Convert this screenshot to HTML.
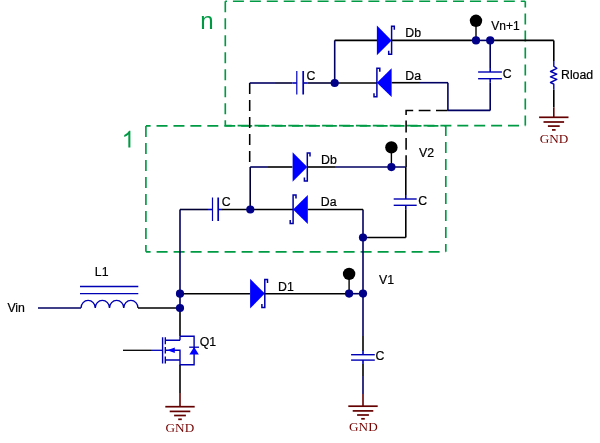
<!DOCTYPE html>
<html><head><meta charset="utf-8"><title>Multi-stage boost converter</title>
<style>html,body{margin:0;padding:0;background:#fff;}body{width:600px;height:443px;overflow:hidden;font-family:"Liberation Sans",sans-serif;}svg{display:block;will-change:transform}</style>
</head><body>
<svg width="600" height="443" viewBox="0 0 600 443">
<rect width="600" height="443" fill="#ffffff"/>
<line x1="225.3" y1="1.2" x2="225.3" y2="125.6" stroke="#009a44" stroke-width="1.65" stroke-dasharray="11 6" stroke-dashoffset="0"/>
<line x1="225.3" y1="1.2" x2="525.3" y2="1.2" stroke="#009a44" stroke-width="1.65" stroke-dasharray="11 5.93" stroke-dashoffset="9.3"/>
<line x1="525.3" y1="1.2" x2="525.3" y2="125.6" stroke="#009a44" stroke-width="1.65" stroke-dasharray="11 6" stroke-dashoffset="4.6"/>
<line x1="225.3" y1="125.6" x2="525.3" y2="125.6" stroke="#009a44" stroke-width="1.65" stroke-dasharray="11 5.9" stroke-dashoffset="4.6"/>
<line x1="145.9" y1="125.9" x2="145.9" y2="251.8" stroke="#009a44" stroke-width="1.65" stroke-dasharray="11 6" stroke-dashoffset="0"/>
<line x1="145.9" y1="125.9" x2="445.8" y2="125.9" stroke="#009a44" stroke-width="1.65" stroke-dasharray="11 5.93" stroke-dashoffset="6.3"/>
<line x1="445.8" y1="125.9" x2="445.8" y2="251.8" stroke="#009a44" stroke-width="1.65" stroke-dasharray="11 6" stroke-dashoffset="1"/>
<line x1="145.9" y1="251.8" x2="445.8" y2="251.8" stroke="#009a44" stroke-width="1.65" stroke-dasharray="11 6" stroke-dashoffset="6.3"/>
<text x="200.2" y="29.4" font-size="24" fill="#009a44" font-family="'Liberation Sans', sans-serif">n</text>
<path transform="translate(121.7,147.6) scale(0.01138,-0.01138)" d="M763 0H583V1147Q518 1085 412.5 1023Q307 961 223 930V1104Q374 1175 487 1276Q600 1377 647 1472H763Z" fill="#009a44"/>
<line x1="249.7" y1="83" x2="249.7" y2="167" stroke="#000000" stroke-width="1.55" stroke-dasharray="11 6" stroke-dashoffset="0"/>
<path d="M447.8,110.4 H406.1 V167" fill="none" stroke="#000000" stroke-width="1.55" stroke-dasharray="11.8 5.5"/>
<line x1="38" y1="308" x2="81" y2="308" stroke="#000062" stroke-width="1.6" />
<path d="M81,308 a7.12,7.6 0 0 1 14.25,0 a7.12,7.6 0 0 1 14.25,0 a7.12,7.6 0 0 1 14.25,0 a7.12,7.6 0 0 1 14.25,0" fill="none" stroke="#0000b4" stroke-width="1.4"/>
<line x1="80" y1="286.5" x2="138.3" y2="286.5" stroke="#0000b4" stroke-width="1.3" />
<line x1="80" y1="293.7" x2="138.3" y2="293.7" stroke="#0000b4" stroke-width="1.3" />
<line x1="138" y1="308" x2="180" y2="308" stroke="#000000" stroke-width="1.6" />
<line x1="180" y1="209.5" x2="180" y2="308" stroke="#000062" stroke-width="1.6" />
<line x1="180" y1="308" x2="180" y2="336.3" stroke="#000000" stroke-width="1.6" />
<line x1="180" y1="364.7" x2="180" y2="393" stroke="#000000" stroke-width="1.6" />
<line x1="180" y1="293.7" x2="250" y2="293.7" stroke="#000000" stroke-width="1.6" />
<line x1="264.7" y1="293.7" x2="349" y2="293.7" stroke="#000000" stroke-width="1.6" />
<line x1="349" y1="293.7" x2="363" y2="293.7" stroke="#000062" stroke-width="1.6" />
<polygon points="250.1,278.8 250.1,308.40000000000003 264.8,293.6" fill="#0000ff"/>
<path d="M267.5,283.0 V279.5 H264.8 V307.50000000000006 H261.90000000000003 V304.00000000000006" fill="none" stroke="#0000a8" stroke-width="1.5"/>
<line x1="123" y1="350.3" x2="151" y2="350.3" stroke="#000000" stroke-width="1.3" />
<line x1="151" y1="350.3" x2="162.6" y2="350.3" stroke="#0000b4" stroke-width="1.3" />
<path d="M162.6,337.2 V363.6 M165.3,337.2 V344.2 M165.3,347 V353.6 M165.3,356.6 V363.6 M165.3,340.3 H180 M180,336.3 V340.3 M180,336.3 H194.1 V364.7 H180 V350.2 H165.3 M165.3,360 H180" fill="none" stroke="#0000b4" stroke-width="1.4"/>
<polygon points="167.3,350.2 174.8,347.4 174.8,353" fill="#0000ff"/>
<polygon points="194.1,347 189.4,354.4 198.8,354.4" fill="#0000ff"/>
<line x1="189.2" y1="347.2" x2="199" y2="347.2" stroke="#0000b4" stroke-width="1.3" />
<line x1="180" y1="393" x2="180" y2="406.7" stroke="#640000" stroke-width="1.6" />
<line x1="165.3" y1="406.7" x2="194.7" y2="406.7" stroke="#640000" stroke-width="1.7" />
<line x1="169.7" y1="411.4" x2="190.3" y2="411.4" stroke="#640000" stroke-width="1.7" />
<line x1="174.1" y1="415.5" x2="185.9" y2="415.5" stroke="#640000" stroke-width="1.7" />
<line x1="178.2" y1="419.3" x2="181.8" y2="419.3" stroke="#640000" stroke-width="1.7" />
<text x="165.6" y="431.5" font-size="13.2" fill="#740000" font-family="'Liberation Serif', serif">GND</text>
<line x1="363" y1="209.4" x2="363" y2="336" stroke="#000062" stroke-width="1.6" />
<line x1="363" y1="336" x2="363" y2="351" stroke="#000000" stroke-width="1.6" />
<line x1="363" y1="350.7" x2="363" y2="354.7" stroke="#0000b4" stroke-width="1.6" />
<line x1="363" y1="360.1" x2="363" y2="364.1" stroke="#0000b4" stroke-width="1.6" />
<line x1="351.1" y1="354.7" x2="374.8" y2="354.7" stroke="#0000b4" stroke-width="1.4" />
<line x1="351.1" y1="360.1" x2="374.8" y2="360.1" stroke="#0000b4" stroke-width="1.4" />
<line x1="363" y1="364" x2="363" y2="376" stroke="#000000" stroke-width="1.6" />
<line x1="363" y1="376" x2="363" y2="394" stroke="#000062" stroke-width="1.6" />
<line x1="363" y1="394" x2="363" y2="406.2" stroke="#640000" stroke-width="1.6" />
<line x1="348.3" y1="406.2" x2="377.7" y2="406.2" stroke="#640000" stroke-width="1.7" />
<line x1="352.7" y1="410.9" x2="373.3" y2="410.9" stroke="#640000" stroke-width="1.7" />
<line x1="357.1" y1="415.0" x2="368.9" y2="415.0" stroke="#640000" stroke-width="1.7" />
<line x1="361.2" y1="418.8" x2="364.8" y2="418.8" stroke="#640000" stroke-width="1.7" />
<text x="349.1" y="431.4" font-size="13.2" fill="#740000" font-family="'Liberation Serif', serif">GND</text>
<line x1="349.1" y1="274" x2="349.1" y2="293.6" stroke="#000000" stroke-width="1.4" />
<circle cx="349.1" cy="273.9" r="6.2" fill="#000000"/>
<circle cx="349.1" cy="293.6" r="4.1" fill="#000088"/>
<circle cx="363" cy="293.6" r="4.1" fill="#000088"/>
<circle cx="180" cy="293.7" r="4.1" fill="#000088"/>
<circle cx="180" cy="308" r="4.1" fill="#000088"/>
<line x1="180" y1="209.5" x2="208" y2="209.5" stroke="#000034" stroke-width="1.6" />
<line x1="208.0" y1="209.5" x2="212.5" y2="209.5" stroke="#0000b4" stroke-width="1.6" />
<line x1="218.2" y1="209.5" x2="222.2" y2="209.5" stroke="#0000b4" stroke-width="1.6" />
<line x1="212.5" y1="197.5" x2="212.5" y2="221" stroke="#0000b4" stroke-width="1.2" />
<line x1="218.2" y1="197.5" x2="218.2" y2="221" stroke="#0000b4" stroke-width="1.7" />
<line x1="222" y1="209.5" x2="293" y2="209.5" stroke="#000000" stroke-width="1.6" />
<polygon points="307.8,195.1 307.8,223.9 293.1,209.5" fill="#0000ff"/>
<path d="M296.0,198.6 V195.1 H293.1 V223.5 H290.20000000000005 V220.0" fill="none" stroke="#0000a8" stroke-width="1.5"/>
<line x1="307.8" y1="209.5" x2="363" y2="209.5" stroke="#000000" stroke-width="1.6" />
<line x1="250.2" y1="167" x2="250.2" y2="209.5" stroke="#000034" stroke-width="1.6" />
<line x1="250.2" y1="167" x2="268" y2="167" stroke="#000062" stroke-width="1.6" />
<line x1="268" y1="167" x2="292.5" y2="167" stroke="#000000" stroke-width="1.6" />
<polygon points="292.6,152.2 292.6,181.8 307.3,167" fill="#0000ff"/>
<path d="M310.0,156.39999999999998 V152.89999999999998 H307.3 V180.9 H304.40000000000003 V177.4" fill="none" stroke="#0000a8" stroke-width="1.5"/>
<line x1="307.4" y1="167" x2="335" y2="167" stroke="#000000" stroke-width="1.6" />
<line x1="335" y1="167" x2="405.8" y2="167" stroke="#000062" stroke-width="1.6" />
<line x1="405.8" y1="167" x2="405.8" y2="195" stroke="#000000" stroke-width="1.6" />
<line x1="405.8" y1="195" x2="405.8" y2="199" stroke="#0000b4" stroke-width="1.6" />
<line x1="405.8" y1="205.3" x2="405.8" y2="209.3" stroke="#0000b4" stroke-width="1.6" />
<line x1="393.7" y1="199" x2="416.7" y2="199" stroke="#0000b4" stroke-width="1.4" />
<line x1="393.7" y1="205.3" x2="416.7" y2="205.3" stroke="#0000b4" stroke-width="1.4" />
<line x1="405.8" y1="209.3" x2="405.8" y2="237.5" stroke="#000000" stroke-width="1.6" />
<line x1="363" y1="237.5" x2="405.8" y2="237.5" stroke="#000000" stroke-width="1.6" />
<line x1="391.4" y1="148" x2="391.4" y2="167" stroke="#000000" stroke-width="1.4" />
<circle cx="391.4" cy="147.4" r="6.2" fill="#000000"/>
<circle cx="391.4" cy="167.1" r="4.1" fill="#000088"/>
<circle cx="250.3" cy="209.5" r="4.1" fill="#000088"/>
<circle cx="363" cy="237.5" r="4.1" fill="#000088"/>
<line x1="249.7" y1="83" x2="275" y2="83" stroke="#000062" stroke-width="1.6" />
<line x1="275" y1="83" x2="292.3" y2="83" stroke="#000034" stroke-width="1.6" />
<line x1="292.3" y1="83" x2="296.8" y2="83" stroke="#0000b4" stroke-width="1.6" />
<line x1="303.2" y1="83" x2="307.2" y2="83" stroke="#0000b4" stroke-width="1.6" />
<line x1="296.8" y1="71" x2="296.8" y2="94.5" stroke="#0000b4" stroke-width="1.2" />
<line x1="303.2" y1="71" x2="303.2" y2="94.5" stroke="#0000b4" stroke-width="1.7" />
<line x1="307.2" y1="83" x2="334.7" y2="83" stroke="#000034" stroke-width="1.6" />
<line x1="334.7" y1="83" x2="377" y2="83" stroke="#000000" stroke-width="1.6" />
<polygon points="391.59999999999997,68.3 391.59999999999997,97.10000000000001 376.9,82.7" fill="#0000ff"/>
<path d="M379.79999999999995,71.8 V68.3 H376.9 V96.7 H374.0 V93.2" fill="none" stroke="#0000a8" stroke-width="1.5"/>
<line x1="334.7" y1="40.3" x2="334.7" y2="83" stroke="#000062" stroke-width="1.6" />
<line x1="334.7" y1="40.4" x2="377" y2="40.4" stroke="#000000" stroke-width="1.6" />
<polygon points="376.9,25.599999999999998 376.9,55.2 391.59999999999997,40.4" fill="#0000ff"/>
<path d="M394.29999999999995,29.799999999999997 V26.299999999999997 H391.59999999999997 V54.300000000000004 H388.7 V50.800000000000004" fill="none" stroke="#0000a8" stroke-width="1.5"/>
<line x1="391.6" y1="40.4" x2="476" y2="40.4" stroke="#000000" stroke-width="1.6" />
<line x1="476" y1="40.4" x2="490.2" y2="40.4" stroke="#000062" stroke-width="1.6" />
<line x1="490.2" y1="40.4" x2="553.8" y2="40.4" stroke="#000000" stroke-width="1.6" />
<line x1="391.6" y1="82.7" x2="420" y2="82.7" stroke="#000000" stroke-width="1.6" />
<line x1="420" y1="82.7" x2="448" y2="82.7" stroke="#000062" stroke-width="1.6" />
<line x1="447.9" y1="82.7" x2="447.9" y2="110.4" stroke="#000062" stroke-width="1.6" />
<line x1="447.9" y1="110.4" x2="490.2" y2="110.4" stroke="#000062" stroke-width="1.6" />
<line x1="490.2" y1="40.4" x2="490.2" y2="68" stroke="#000062" stroke-width="1.6" />
<line x1="490.2" y1="68" x2="490.2" y2="72" stroke="#0000b4" stroke-width="1.6" />
<line x1="490.2" y1="78.7" x2="490.2" y2="82.7" stroke="#0000b4" stroke-width="1.6" />
<line x1="478.1" y1="72" x2="501.9" y2="72" stroke="#0000b4" stroke-width="1.4" />
<line x1="478.1" y1="78.7" x2="501.9" y2="78.7" stroke="#0000b4" stroke-width="1.4" />
<line x1="490.2" y1="82.7" x2="490.2" y2="110.4" stroke="#000062" stroke-width="1.6" />
<line x1="476" y1="21" x2="476" y2="40.4" stroke="#000000" stroke-width="1.4" />
<circle cx="476" cy="20.8" r="6.2" fill="#000000"/>
<circle cx="476" cy="40.4" r="4.1" fill="#000088"/>
<circle cx="490.2" cy="40.4" r="4.1" fill="#000088"/>
<circle cx="334.7" cy="83" r="4.1" fill="#000088"/>
<line x1="553.8" y1="40.4" x2="553.8" y2="61" stroke="#000000" stroke-width="1.6" />
<path d="M553.8,61 V66.3 L556.8,68.4 L550.5,71.5 L556.8,74.1 L550.5,76.9 L556.8,79.4 L550.5,82.5 L553.8,84.1 V89.8" fill="none" stroke="#0000b4" stroke-width="1.4" stroke-linejoin="round"/>
<line x1="553.8" y1="89.8" x2="553.8" y2="107.5" stroke="#000000" stroke-width="1.6" />
<line x1="553.8" y1="107.5" x2="553.8" y2="117.3" stroke="#640000" stroke-width="1.6" />
<line x1="539.0999999999999" y1="117.3" x2="568.5" y2="117.3" stroke="#640000" stroke-width="1.7" />
<line x1="543.5" y1="122.0" x2="564.0999999999999" y2="122.0" stroke="#640000" stroke-width="1.7" />
<line x1="547.9" y1="126.1" x2="559.6999999999999" y2="126.1" stroke="#640000" stroke-width="1.7" />
<line x1="552.0" y1="129.9" x2="555.5999999999999" y2="129.9" stroke="#640000" stroke-width="1.7" />
<text x="539.8" y="143" font-size="13.2" fill="#740000" font-family="'Liberation Serif', serif">GND</text>
<text x="7.4" y="311.7" font-size="12.3" fill="#000" font-family="'Liberation Sans', sans-serif" stroke="#000" stroke-width="0.2">Vin</text>
<text x="94.8" y="276.1" font-size="12.3" fill="#000" font-family="'Liberation Sans', sans-serif" stroke="#000" stroke-width="0.2">L1</text>
<text x="199.7" y="346" font-size="12.3" fill="#000" font-family="'Liberation Sans', sans-serif" stroke="#000" stroke-width="0.2">Q1</text>
<text x="278" y="290.6" font-size="12.3" fill="#000" font-family="'Liberation Sans', sans-serif" stroke="#000" stroke-width="0.2">D1</text>
<text x="221.8" y="205.8" font-size="12.3" fill="#000" font-family="'Liberation Sans', sans-serif" stroke="#000" stroke-width="0.2">C</text>
<text x="320.8" y="206" font-size="12.3" fill="#000" font-family="'Liberation Sans', sans-serif" stroke="#000" stroke-width="0.2">Da</text>
<text x="321" y="163.8" font-size="12.3" fill="#000" font-family="'Liberation Sans', sans-serif" stroke="#000" stroke-width="0.2">Db</text>
<text x="418.3" y="205.2" font-size="12.3" fill="#000" font-family="'Liberation Sans', sans-serif" stroke="#000" stroke-width="0.2">C</text>
<text x="419" y="157" font-size="12.3" fill="#000" font-family="'Liberation Sans', sans-serif" stroke="#000" stroke-width="0.2">V2</text>
<text x="379" y="283.5" font-size="12.3" fill="#000" font-family="'Liberation Sans', sans-serif" stroke="#000" stroke-width="0.2">V1</text>
<text x="375.5" y="360" font-size="12.3" fill="#000" font-family="'Liberation Sans', sans-serif" stroke="#000" stroke-width="0.2">C</text>
<text x="306.6" y="79.5" font-size="12.3" fill="#000" font-family="'Liberation Sans', sans-serif" stroke="#000" stroke-width="0.2">C</text>
<text x="405.3" y="37" font-size="12.3" fill="#000" font-family="'Liberation Sans', sans-serif" stroke="#000" stroke-width="0.2">Db</text>
<text x="405.3" y="79.6" font-size="12.3" fill="#000" font-family="'Liberation Sans', sans-serif" stroke="#000" stroke-width="0.2">Da</text>
<text x="491.3" y="29.9" font-size="12" fill="#000" font-family="'Liberation Sans', sans-serif" stroke="#000" stroke-width="0.2">Vn+1</text>
<text x="502.8" y="78.1" font-size="12.3" fill="#000" font-family="'Liberation Sans', sans-serif" stroke="#000" stroke-width="0.2">C</text>
<text x="561" y="79.3" font-size="12.3" fill="#000" font-family="'Liberation Sans', sans-serif" stroke="#000" stroke-width="0.2">Rload</text>
</svg>
</body></html>
